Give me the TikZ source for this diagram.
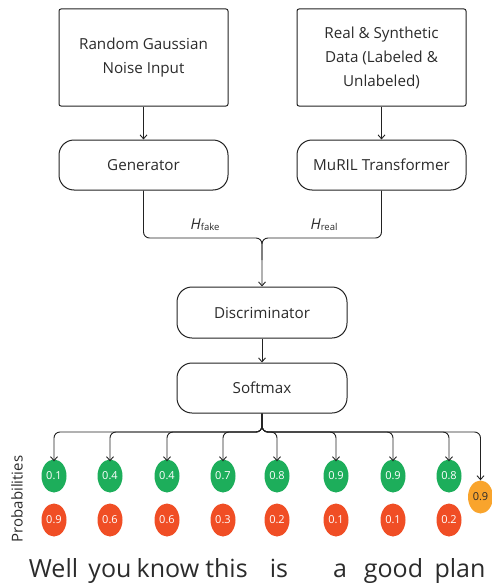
\documentclass[tikz,border=0pt]{standalone}
\usepackage{fontspec}
\setmainfont{Open Sans}
\usetikzlibrary{arrows.meta,shapes.geometric}
\definecolor{pgreen}{HTML}{1DAE5B}
\definecolor{pred}{HTML}{F04E25}
\definecolor{porange}{HTML}{F9A42C}
\definecolor{lineC}{HTML}{222222}
\definecolor{txtC}{HTML}{2B2B2B}
\begin{document}
\begin{tikzpicture}[x=1pt,y=-1pt,
  box/.style={draw=lineC,line width=1pt,rounded corners=2pt,minimum width=169pt,minimum height=97pt,align=center,font=\fontsize{15.2}{24}\selectfont,text=txtC},
  pill/.style={draw=lineC,line width=1pt,rounded corners=15pt,minimum width=169pt,minimum height=50pt,align=center,font=\fontsize{15.2}{16}\selectfont,text=txtC},
  prob/.style={ellipse,minimum width=25pt,minimum height=33pt,inner sep=0pt,text=white,font=\fontsize{11}{11}\selectfont},
  arr/.style={-{Straight Barb[length=4pt,width=7pt]},line width=0.9pt,draw=lineC},
  ln/.style={line width=0.9pt,draw=lineC},
  word/.style={font=\fontsize{25}{25}\selectfont,text=txtC,anchor=base}]
\useasboundingbox (0,0) rectangle (492,586);
\node[box] (noise) at (143.5,57.5) {Random Gaussian\\Noise Input};
\node[box] (data) at (381.5,57.5) {Real \& Synthetic\\Data (Labeled \&\\Unlabeled)};
\node[pill] (gen) at (143.5,165) {Generator};
\node[pill] (muril) at (381.5,165) {MuRIL Transformer};
\node[pill,minimum width=170pt,minimum height=51pt] (disc) at (262,312.5) {Discriminator};
\node[pill,minimum width=170pt] (soft) at (262,388) {Softmax};
\draw[arr] (noise) -- (gen);
\draw[arr] (data) -- (muril);
\coordinate (j) at (262,238);
\draw[ln,rounded corners=6pt] (muril.south) |- (j) -- (262,260);
\draw[arr,rounded corners=6pt] (gen.south) |- (j) -- (disc.north);
\node[font=\fontsize{15}{15}\selectfont,text=txtC] (hf) at (205,225) {\textit{H}\raisebox{-1pt}{\fontsize{9.5}{10}\selectfont fake}};
\node[font=\fontsize{15}{15}\selectfont,text=txtC] (hr) at (324,225) {\textit{H}\raisebox{-1pt}{\fontsize{9.5}{10}\selectfont real}};
\draw[arr] (disc) -- (soft);
% probabilities
\coordinate (k) at (262,432);
\foreach \x/\g/\r [count=\i] in {54/0.1/0.9,110/0.4/0.6,167/0.4/0.6,223/0.7/0.3,277/0.8/0.2,336/0.9/0.1,393/0.9/0.1,449/0.8/0.2}{
  \node[prob,fill=pgreen] (g\i) at (\x,476) {\g};
  \node[prob,fill=pred] (r\i) at (\x,520) {\r};
  \draw[arr,rounded corners=6pt] (soft.south) -- (k) -| ([yshift=-2pt]g\i.north);
}
\node[prob,fill=porange,text=txtC] (o) at (480.5,497) {0.9};
\draw[arr,rounded corners=6pt] (soft.south) -- (k) -| (o.north);
\node[rotate=90,font=\fontsize{15}{15}\selectfont,text=txtC] (pl) at (17,499) {Probabilities};
\node[word] (w1) at (53.5,577) {Well};
\node[word] (w2) at (110,577) {you};
\node[word] (w3) at (168,577) {know};
\node[word] (w4) at (226.5,577) {this};
\node[word] (w5) at (279,577) {is};
\node[word] (w6) at (340,577) {a};
\node[word] (w7) at (393.5,577) {good};
\node[word] (w8) at (460,577) {plan};
\end{tikzpicture}
\end{document}
